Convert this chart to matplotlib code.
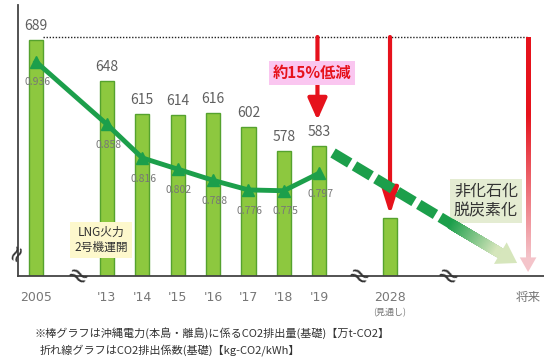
#!/usr/bin/env python3
"""Okinawa Electric CO2 emissions (bars) and emission factor (line), with outlook arrows."""

import matplotlib.pyplot as plt
import numpy as np
from matplotlib.collections import LineCollection
from matplotlib.colors import to_rgb

plt.rcParams['font.family'] = ['Noto Sans CJK JP', 'DejaVu Sans']
plt.rcParams['lines.scale_dashes'] = False

# ---------------------------------------------------------------------
# DATA
# ---------------------------------------------------------------------
BAR_POS = [0, 2, 3, 4, 5, 6, 7, 8, 10]
EMISSIONS = [689, 648, 615, 614, 616, 602, 578, 583, 511]  # 万t-CO2 (2028 = outlook)
EMISSION_LABELS = ['689', '648', '615', '614', '616', '602', '578', '583', '']

FACTOR_POS = [0, 2, 3, 4, 5, 6, 7, 8]
FACTORS = [0.936, 0.858, 0.816, 0.802, 0.788, 0.776, 0.775, 0.797]  # kg-CO2/kWh

FUTURE_POS = 13.9
TICK_POS = BAR_POS + [FUTURE_POS]
TICK_LABELS = ['2005', "'13", "'14", "'15", "'16", "'17", "'18", "'19", '2028', '将来']

NOTE_1 = '※棒グラフは沖縄電力(本島・離島)に係るCO2排出量(基礎)【万t-CO2】'
NOTE_2 = '折れ線グラフはCO2排出係数(基礎)【kg-CO2/kWh】'

# ---------------------------------------------------------------------
# STYLE
# ---------------------------------------------------------------------
BAR_FACE = '#8dc83f'
BAR_EDGE = '#55a22e'
GREEN = '#1c9f4b'
PALE_GREEN = '#d6e6bc'
RED = '#e6121c'
PALE_RED = '#f4c4ca'
GRAY = '#606060'

Y_BASE = 453
Y_TOP = 724
F_BASE = 0.6685
F_TOP = 1.007
X_MIN, X_MAX = -0.51, 14.35


def gradient_line(ax, p0, p1, c0, c1, lw, n=80, zorder=5):
    t = np.linspace(0, 1, n + 1)
    xs = p0[0] + (p1[0] - p0[0]) * t
    ys = p0[1] + (p1[1] - p0[1]) * t
    pts = np.column_stack([xs, ys])
    segs = np.stack([pts[:-1], pts[1:]], axis=1)
    mid = (t[:-1] + t[1:]) / 2
    cols = (1 - mid)[:, None] * np.array(to_rgb(c0)) + mid[:, None] * np.array(to_rgb(c1))
    lc = LineCollection(segs, colors=cols, linewidths=lw, capstyle='projecting', zorder=zorder)
    ax.add_collection(lc)


def head(ax, tip, base, color, hl, hw, zorder=6):
    ax.annotate('', xy=tip, xytext=base,
                arrowprops=dict(arrowstyle=f'-|>,head_length={hl},head_width={hw}',
                                color=color, lw=0, shrinkA=0, shrinkB=0,
                                mutation_scale=10),
                zorder=zorder)


fig = plt.figure(figsize=(5.44, 3.58), dpi=100)
ax = fig.add_axes([18 / 544, 82 / 358, 526 / 544, 271 / 358])

# bars
ax.bar(BAR_POS, [v - Y_BASE for v in EMISSIONS], bottom=Y_BASE, width=0.4,
       color=BAR_FACE, edgecolor=BAR_EDGE, linewidth=1.0, zorder=2)
for x, v, lab in zip(BAR_POS, EMISSIONS, EMISSION_LABELS):
    ax.annotate(lab, (x, v), xytext=(0, 7), textcoords='offset points',
                ha='center', va='baseline', fontsize=10, color=GRAY, zorder=3)

# 2005 level reference line
top_level = EMISSIONS[0] + 3
ax.hlines(top_level, 0.2, FUTURE_POS, colors='#222222', linestyles=(0, (1, 1.2)),
          linewidth=1.0, zorder=1)

# red arrow: about 15% reduction to 2019
ax.annotate('', xy=(BAR_POS[7] - 0.05, EMISSIONS[7] + 26), xytext=(BAR_POS[7] - 0.05, top_level),
            arrowprops=dict(arrowstyle='-|>,head_length=1.3,head_width=0.58', color=RED,
                            lw=3, shrinkA=0, shrinkB=0, mutation_scale=10), zorder=4)
ax.text(7.8, 656, '約15%低減', ha='center', va='center', fontsize=11, color=RED,
        fontweight='bold',
        bbox=dict(boxstyle='square,pad=0.25', fc='#fac6f0', ec='none'), zorder=5)

# red arrow: down to 2028 outlook
ax.annotate('', xy=(BAR_POS[8], EMISSIONS[8] + 3), xytext=(BAR_POS[8], top_level),
            arrowprops=dict(arrowstyle='-|>,head_length=1.6,head_width=0.5', color=RED,
                            lw=3, shrinkA=0, shrinkB=0, mutation_scale=10), zorder=4)

# future: red to pale arrow
grad = np.linspace(0, 1, 200)[:, None]
grad = np.clip((grad - 0.35) / 0.65, 0, 1)
red_rgb = np.array(to_rgb(RED))
pale_rgb = np.array(to_rgb(PALE_RED))
img = (1 - grad)[:, :, None] * red_rgb + grad[:, :, None] * pale_rgb
img = np.repeat(img, 2, axis=1)
ax.imshow(img, extent=[FUTURE_POS - 0.065, FUTURE_POS + 0.065, 471, top_level],
          aspect='auto', origin='upper', zorder=4)
head(ax, (FUTURE_POS, 457), (FUTURE_POS, 472), PALE_RED, 1.05, 0.6)

# green decarbonisation arrow
ax.plot([8.39, 11.78], [576, 504], color=GREEN, lw=7.5, dashes=(14, 4),
        solid_capstyle='butt', dash_capstyle='butt', zorder=6)
gradient_line(ax, (11.82, 503), (13.11, 476), GREEN, PALE_GREEN, 7.5, zorder=6)
head(ax, (13.59, 466), (13.11, 476), PALE_GREEN, 1.4, 0.9, zorder=6)

ax.text(12.71, 528, '非化石化\n脱炭素化', ha='center', va='center', fontsize=11.5,
        color='#333333', linespacing=1.15,
        bbox=dict(boxstyle='square,pad=0.25', fc='#e4ecd2', ec='none'), zorder=5)

ax.text(1.84, 489, 'LNG火力\n2号機運開', ha='center', va='center', fontsize=8.5,
        color='#333333', linespacing=1.2,
        bbox=dict(boxstyle='square,pad=0.35', fc='#fdf8cc', ec='none'), zorder=5)

# axis break marks
ax.text(-0.54, 477, '≈', ha='center', va='center', fontsize=16, rotation=65,
        color='#333333', family='DejaVu Sans', clip_on=False, zorder=6)
for bx in [1.13, 9.07, 11.6]:
    ax.text(bx, Y_BASE - 2, '≈', ha='center', va='center', fontsize=19, rotation=-30,
            color='#333333', family='DejaVu Sans', clip_on=False, zorder=6)

ax.set_xlim(X_MIN, X_MAX)
ax.set_ylim(Y_BASE, Y_TOP)
ax.set_xticks(TICK_POS)
ax.set_xticklabels(TICK_LABELS, fontsize=9, color='#777777',
                   family=['DejaVu Sans', 'Noto Sans CJK JP'])
ax.tick_params(axis='x', length=0, pad=11)
ax.set_yticks([])
for side in ['top', 'right']:
    ax.spines[side].set_visible(False)
for side in ['left', 'bottom']:
    ax.spines[side].set_color('#444444')
    ax.spines[side].set_linewidth(1.3)
ax.text(BAR_POS[8], -0.135, '(見通し)', transform=ax.get_xaxis_transform(),
        ha='center', va='center', fontsize=6.5, color='#777777')

# emission factor line
ax2 = ax.twinx()
ax2.plot(FACTOR_POS, FACTORS, color=GREEN, lw=3.5, marker='^', ms=9, zorder=3)
for x, f in zip(FACTOR_POS, FACTORS):
    ax2.annotate(f'{f:.3f}', (x, f), xytext=(1, -17), textcoords='offset points',
                 ha='center', va='baseline', fontsize=7.5, color='#777777')
ax2.set_ylim(F_BASE, F_TOP)
ax2.set_xlim(X_MIN, X_MAX)
ax2.set_yticks([])
for s in ax2.spines.values():
    s.set_visible(False)

fig.text(35 / 544, 1 - 333 / 358, NOTE_1, ha='left', va='center', fontsize=8, color='#333333')
fig.text(40 / 544, 1 - 350 / 358, NOTE_2, ha='left', va='center', fontsize=8, color='#333333')

fig.savefig('out.png', dpi=100)
